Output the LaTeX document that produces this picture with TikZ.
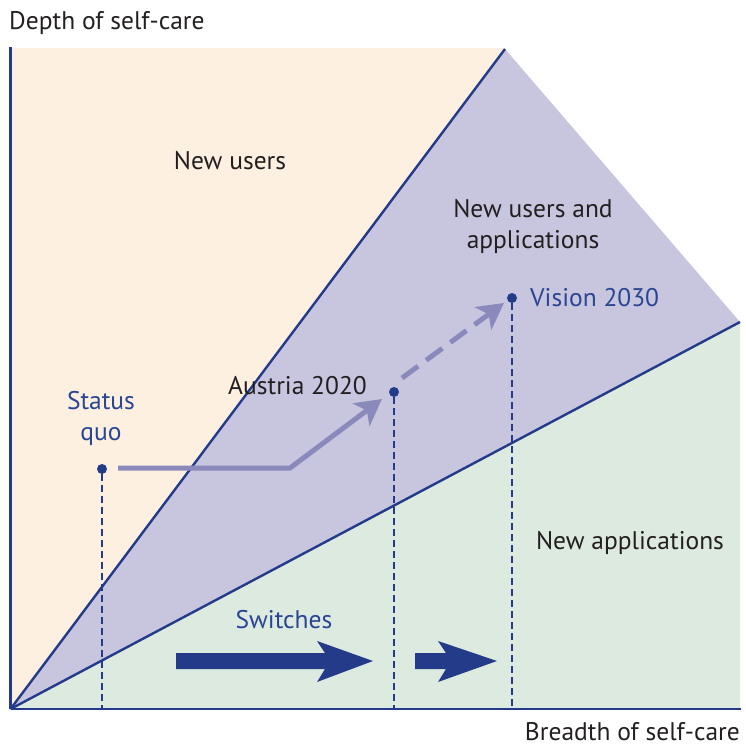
\documentclass[tikz,border=0pt]{standalone}
\usepackage{fontspec}
\setmainfont{PT Sans}
\usetikzlibrary{arrows.meta}
\definecolor{beige}{HTML}{FDF0E1}
\definecolor{lilac}{HTML}{C8C6DF}
\definecolor{mint}{HTML}{DDEAE0}
\definecolor{lineblue}{HTML}{243B8A}
\definecolor{textblue}{HTML}{2A4592}
\definecolor{textdark}{HTML}{231F20}
\definecolor{pathgray}{HTML}{8A89BC}
\begin{document}
\begin{tikzpicture}[x=1pt,y=-1pt,
  axisline/.style={draw=lineblue,line width=2.4pt},
  dot/.style={circle,fill=lineblue,inner sep=0pt,minimum size=10pt},
  drop/.style={draw=lineblue,line width=2.4pt,dash pattern=on 7pt off 4pt},
  trail/.style={draw=pathgray,line width=5pt,-{Stealth[length=26pt,width=28pt,inset=7pt]}},
  blockarrow/.style={fill=lineblue},
  darklabel/.style={text=textdark,font=\fontsize{25.5}{31}\selectfont,inner sep=0pt},
  bluelabel/.style={text=textblue,font=\fontsize{25.5}{31}\selectfont,inner sep=0pt}]
\useasboundingbox (0,0) rectangle (745,747);
% regions
\fill[beige] (10,48) rectangle (505,709);
\fill[lilac] (10,709) -- (505,49) -- (740,322) -- cycle;
\fill[mint] (10,709) -- (740,322) -- (740,709) -- cycle;
% axes and boundaries
\coordinate (O) at (10.5,709);
\coordinate (ytop) at (10.5,47);
\coordinate (xend) at (741,709);
\coordinate (peak) at (505,49);
\coordinate (rightend) at (740,322);
\draw[axisline] (O) -- (ytop);
\draw[axisline] (O) -- (xend);
\draw[axisline] (O) -- (peak);
\draw[axisline] (O) -- (rightend);
% points
\node[dot] (sq) at (102,469) {};
\node[dot] (at) at (394,392) {};
\node[dot] (vi) at (512,298) {};
\coordinate (sqb) at (102,709);
\coordinate (atb) at (394,709);
\coordinate (vib) at (512,709);
\draw[drop] (sq) -- (sqb);
\draw[drop] (at) -- (atb);
\draw[drop] (vi) -- (vib);
% trajectory
\coordinate (bend) at (290,468);
\coordinate (attip) at (382,399);
\coordinate (vistart) at (402,378);
\coordinate (vitip) at (504,303);
\draw[trail] (118,468) -- (bend) -- (attip);
\draw[trail,dash pattern=on 20pt off 10pt] (vistart) -- (vitip);
% block arrows
\fill[blockarrow] (176,653) -- (325,653) -- (317,641) -- (373,661) -- (317,682) -- (325,669) -- (176,669) -- cycle;
\fill[blockarrow] (415,653) -- (446,653) -- (438,641) -- (497,661) -- (438,682) -- (446,669) -- (415,669) -- cycle;
% labels
\node[darklabel,anchor=base west] (ylab) at (9,29) {Depth of self-care};
\node[darklabel,anchor=base east] (xlab) at (740,740) {Breadth of self-care};
\node[darklabel] (nu) at (230,161) {New users};
\node[darklabel,align=center] (nua) at (533,226) {New users and\\applications};
\node[darklabel] (na) at (630,543) {New applications};
\node[darklabel,anchor=east] (atlab) at (367,386) {Austria 2020};
\node[bluelabel,anchor=west] (vilab) at (530,298) {Vision 2030};
\node[bluelabel,align=center] (sqlab) at (101,418) {Status\\quo};
\node[bluelabel] (sw) at (284,620) {Switches};
\end{tikzpicture}
\end{document}
